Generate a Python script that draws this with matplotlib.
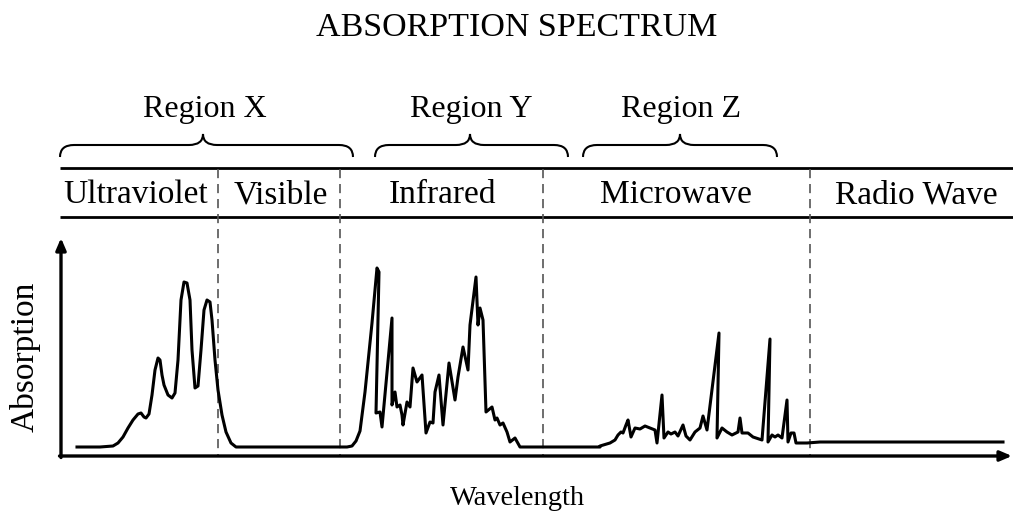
import matplotlib.pyplot as plt
from matplotlib.path import Path
from matplotlib.patches import PathPatch

plt.rcParams['font.family'] = ['Liberation Serif', 'DejaVu Serif']

W, H = 1013, 512

# spectrum trace: wavelength position (px from left of plot) and absorption (px above x axis)
uv_x = [15, 38, 51, 56, 61, 66, 71, 76, 79, 82, 84, 87, 90, 93, 96, 98, 100, 102, 106, 110,
        113, 116, 119, 122, 125, 128, 130, 133, 136, 139, 142, 145, 148, 150, 153, 156, 160,
        164, 169, 174, 285]
uv_y = [11, 11, 12, 15, 21, 30, 38, 44, 45, 41, 40, 44, 63, 88, 100, 98, 83, 73, 63, 60,
        65, 98, 158, 176, 175, 158, 108, 70, 72, 108, 148, 158, 156, 138, 98, 68, 43,
        26, 15, 11, 11]
ir_x = [290, 294, 298, 303, 310, 315, 317, 314, 318, 320, 330, 330, 333, 335, 338, 340, 341,
        345, 348, 351, 355, 360, 364, 368, 371, 373, 377, 381, 387, 393, 396, 401, 406, 408,
        414, 416, 418, 421, 424, 430, 433, 435, 438, 441, 445, 448, 453, 458, 538]
ir_y = [12, 17, 27, 66, 135, 190, 186, 45, 46, 31, 140, 53, 66, 51, 53, 43, 33,
        56, 51, 90, 76, 83, 25, 36, 35, 66, 83, 33, 95, 58, 81, 111, 88, 133, 181, 133, 150,
        138, 46, 51, 38, 40, 33, 35, 26, 16, 20, 11, 11]
mw_x = [538, 548, 553, 556, 559, 561, 564, 566, 569, 573, 578, 583, 588, 593, 595, 600, 602,
        606, 609, 613, 616, 621, 624, 628, 633, 638, 641, 645, 657, 655, 660, 665, 670, 676,
        678, 680, 686, 691, 700, 708, 706, 710, 713, 716, 720, 725, 726, 729, 732, 734, 745,
        758, 941]
mw_y = [12, 15, 18, 23, 26, 25, 33, 38, 21, 30, 29, 32, 30, 28, 15, 63, 20, 26, 24, 26, 22,
        33, 22, 18, 26, 30, 42, 28, 125, 20, 30, 26, 23, 26, 40, 25, 25, 21, 18, 119, 16, 23,
        21, 23, 20, 58, 16, 25, 25, 15, 15, 16, 16]

bands = ['Ultraviolet', 'Visible', 'Infrared', 'Microwave', 'Radio Wave']
band_label_x = [136, 281, 442, 676, 916]
band_edges = [218, 340, 543, 810]
regions = ['Region X', 'Region Y', 'Region Z']
region_spans = [(60, 353), (375, 568), (583, 777)]
region_tips = [203, 470, 680]
region_label_x = [205, 471, 681]

fig = plt.figure(figsize=(W / 100, H / 100), dpi=100)
ov = fig.add_axes([0, 0, 1, 1])
ov.set_xlim(0, W)
ov.set_ylim(H, 0)
ov.axis('off')

# spectrum axes
x0, x1, yb, yt = 62, 1010, 458, 240
sp = fig.add_axes([x0 / W, 1 - yb / H, (x1 - x0) / W, (yb - yt) / H])
sp.set_xlim(0, x1 - x0)
sp.set_ylim(0, yb - yt)
sp.axis('off')
sp.patch.set_alpha(0)

sp.plot(uv_x + ir_x + mw_x, uv_y + ir_y + mw_y, color='black', lw=2.2,
        solid_joinstyle='round', clip_on=False)

# axes arrows
ax_x, ax_y = 61, 456
arrow = dict(arrowstyle='-|>,head_length=0.7,head_width=0.3', color='black', lw=2.4,
             shrinkA=0, shrinkB=0)
ov.annotate('', xy=(ax_x, 238), xytext=(ax_x, ax_y + 1.5), arrowprops=arrow)
ov.annotate('', xy=(1012, ax_y), xytext=(ax_x - 1.5, ax_y), arrowprops=arrow)

# header rows
for y in (168, 217):
    ov.plot([60, W], [y, y], color='black', lw=2.0, solid_capstyle='butt')
for x in band_edges:
    ov.plot([x, x], [169, ax_y], color='#555555', lw=1.2, dashes=(5.5, 3.5))
for name, x in zip(bands, band_label_x):
    ov.text(x, 203, name, ha='center', va='baseline', fontsize=24)

# braces
def brace(xa, xb, xm, ye=157, yh=145, ytip=134, r=14):
    verts = [(xa, ye), (xa, yh), (xa + r, yh),
             (xm - r, yh), (xm, yh), (xm, ytip),
             (xm, yh), (xm + r, yh),
             (xb - r, yh), (xb, yh), (xb, ye)]
    codes = [Path.MOVETO, Path.CURVE3, Path.CURVE3,
             Path.LINETO, Path.CURVE3, Path.CURVE3,
             Path.CURVE3, Path.CURVE3,
             Path.LINETO, Path.CURVE3, Path.CURVE3]
    return PathPatch(Path(verts, codes), fill=False, lw=1.5, color='black')

for name, (xa, xb), xm, lx in zip(regions, region_spans, region_tips, region_label_x):
    ov.add_patch(brace(xa, xb, xm))
    ov.text(lx, 117, name, ha='center', va='baseline', fontsize=23)

ov.text(517, 36, 'ABSORPTION SPECTRUM', ha='center', va='baseline', fontsize=24.5)
ov.text(518, 505, 'Wavelength', ha='center', va='baseline', fontsize=20.5)
ov.text(25, 357, 'Absorption', ha='center', va='center', fontsize=24, rotation=90)

fig.savefig('out.png', dpi=100)
